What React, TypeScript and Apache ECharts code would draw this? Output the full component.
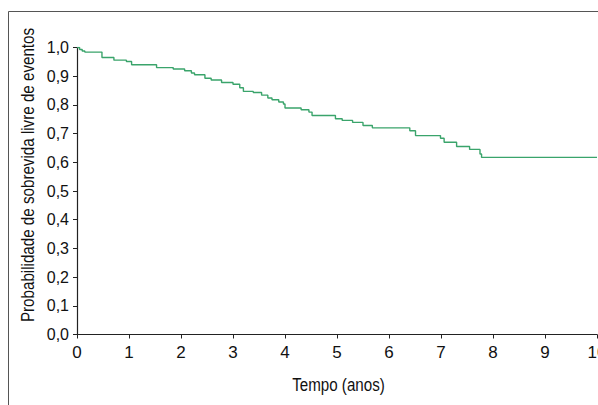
import React, { useEffect, useRef } from "react";
import * as echarts from "echarts";

const times = [0, 0.05, 0.1, 0.15, 0.48, 0.71, 0.95, 1.05, 1.53, 1.85, 2.07, 2.2, 2.26, 2.46, 2.58, 2.78, 3.0, 3.13, 3.2, 3.39, 3.55, 3.67, 3.75, 3.88, 3.97, 4.0, 4.31, 4.46, 4.52, 4.97, 5.1, 5.3, 5.5, 5.68, 6.4, 6.51, 6.99, 7.06, 7.3, 7.55, 7.75, 7.78, 10];
const survival = [1.0, 0.993, 0.988, 0.984, 0.965, 0.956, 0.951, 0.94, 0.93, 0.925, 0.919, 0.911, 0.905, 0.893, 0.887, 0.878, 0.872, 0.86, 0.847, 0.843, 0.834, 0.824, 0.818, 0.81, 0.803, 0.789, 0.783, 0.775, 0.763, 0.752, 0.746, 0.739, 0.728, 0.72, 0.71, 0.693, 0.684, 0.67, 0.655, 0.645, 0.629, 0.617, 0.617];
const xTitle = "Tempo (anos)";
const yTitle = "Probabilidade de sobrevida livre de eventos";

export default function App() {
  const ref = useRef<HTMLDivElement>(null);
  useEffect(() => {
    const chart = echarts.init(ref.current!, undefined, { renderer: "svg" });
    const font = "'Liberation Sans', Arial, sans-serif";
    const data = times.map((t, i) => [t, survival[i]]);
    chart.setOption({
      animation: false,
      backgroundColor: "#ffffff",
      graphic: [
        {
          type: "rect",
          shape: { x: 8.5, y: 11.5, width: 620, height: 420 },
          style: { fill: "none", stroke: "#555", lineWidth: 1 },
          silent: true,
        },
        {
          type: "text",
          x: 28,
          y: 175,
          rotation: Math.PI / 2,
          scaleX: 0.82,
          style: {
            text: yTitle,
            fontFamily: font,
            fontSize: 18.5,
            fill: "#111",
            align: "center",
            verticalAlign: "middle",
          },
          silent: true,
        },
        {
          type: "text",
          x: 338.5,
          y: 385,
          scaleX: 0.82,
          style: {
            text: xTitle,
            fontFamily: font,
            fontSize: 18.5,
            fill: "#111",
            align: "center",
            verticalAlign: "middle",
          },
          silent: true,
        },
      ],
      grid: { left: 77, right: 1, top: 47.5, bottom: 70.5, containLabel: false, outerBoundsMode: "none" },
      xAxis: {
        type: "value",
        min: 0,
        max: 10,
        interval: 1,
        axisLine: { show: true, onZero: false, lineStyle: { color: "#222", width: 1.2 } },
        axisTick: { show: true, length: 4, lineStyle: { color: "#222" } },
        axisLabel: { fontFamily: font, fontSize: 17, color: "#111", margin: 9, showMaxLabel: true, hideOverlap: false },
        splitLine: { show: false },
      },
      yAxis: {
        type: "value",
        min: 0,
        max: 1,
        interval: 0.1,
        axisLine: { show: true, lineStyle: { color: "#222", width: 1.2 } },
        axisTick: { show: true, length: 4, lineStyle: { color: "#222" } },
        axisLabel: {
          fontFamily: font,
          fontSize: 16,
          color: "#111",
          margin: 8,
          formatter: (v: number) => v.toFixed(1).replace(".", ","),
        },
        splitLine: { show: false },
      },
      series: [
        {
          type: "line",
          step: "end",
          data,
          symbol: "none",
          lineStyle: { color: "#3aa46b", width: 1.4 },
        },
      ],
    });
    return () => chart.dispose();
  }, []);
  return (
    <div
      ref={ref}
      style={{ position: "absolute", left: 0, top: 0, width: 598, height: 405 }}
    />
  );
}
